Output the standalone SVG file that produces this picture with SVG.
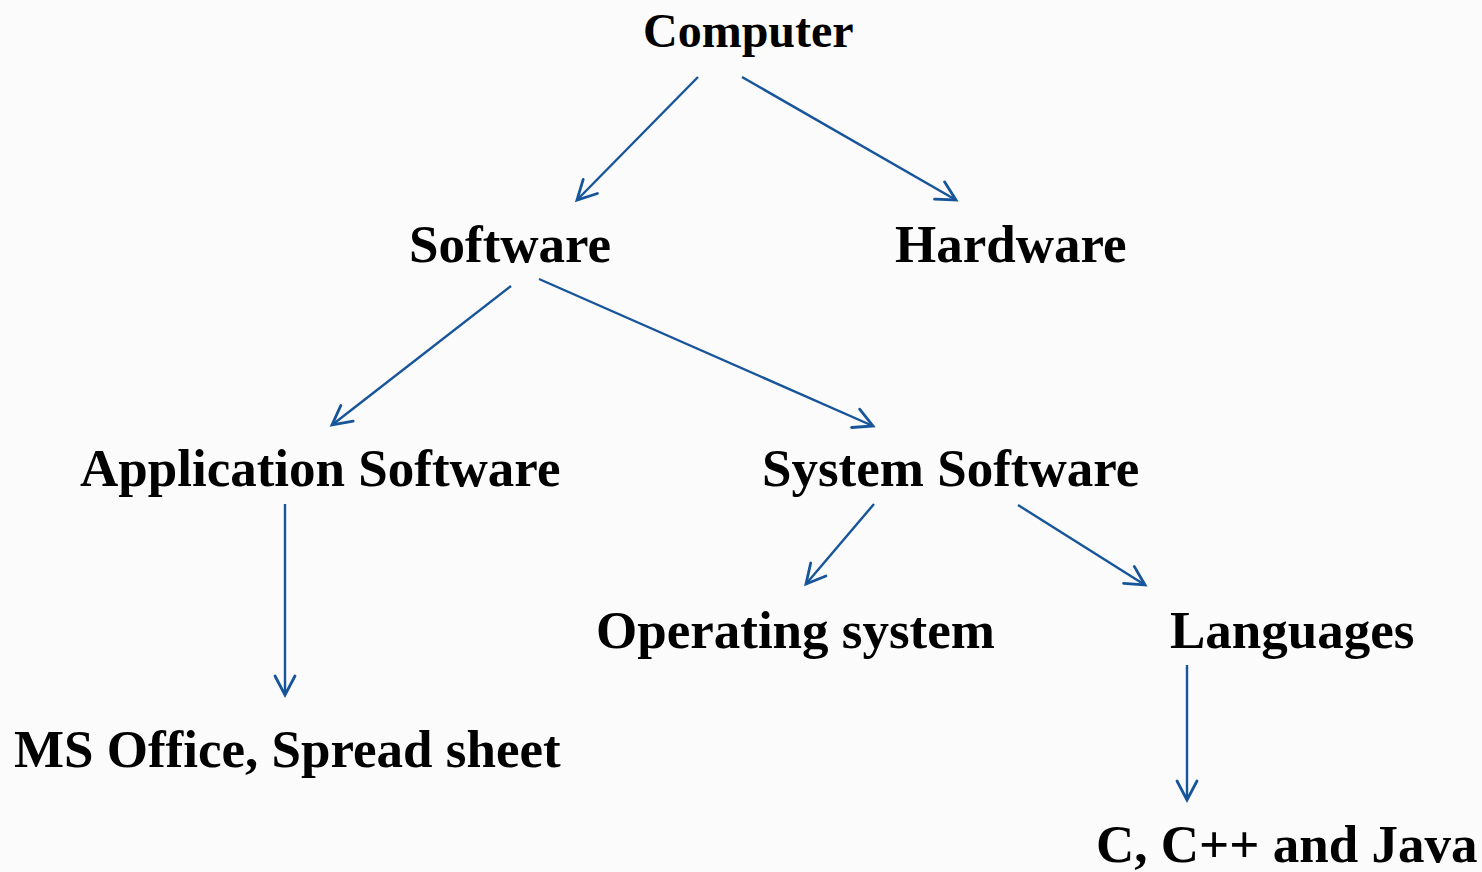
<svg xmlns="http://www.w3.org/2000/svg" width="1482" height="872" viewBox="0 0 1482 872">
<defs>
<style>
.t{font-family:"Liberation Serif","Times New Roman",serif;font-weight:bold;fill:#000;font-size:53px}
.c{stroke:#17559a;stroke-width:2.4;fill:none}
</style>
<marker id="ah" markerUnits="userSpaceOnUse" markerWidth="26" markerHeight="26" viewBox="-22 -13 26 26" refX="0" refY="0" orient="auto">
<path d="M-19,-10 L0,0 L-19,10" fill="none" stroke="#17559a" stroke-width="2.8" stroke-linecap="round" stroke-linejoin="miter"/>
</marker>
</defs>
<rect width="1482" height="872" fill="#fbfbfb"/>
<g id="connectors">
<line class="c" x1="698" y1="77" x2="577" y2="200" marker-end="url(#ah)"/>
<line class="c" x1="742" y1="77" x2="956" y2="200" marker-end="url(#ah)"/>
<line class="c" x1="511" y1="286" x2="332" y2="425" marker-end="url(#ah)"/>
<line class="c" x1="539" y1="279" x2="873" y2="426" marker-end="url(#ah)"/>
<line class="c" x1="285" y1="504" x2="285" y2="695" marker-end="url(#ah)"/>
<line class="c" x1="874" y1="504" x2="806" y2="584" marker-end="url(#ah)"/>
<line class="c" x1="1018" y1="505" x2="1145" y2="585" marker-end="url(#ah)"/>
<line class="c" x1="1187" y1="665" x2="1187" y2="800" marker-end="url(#ah)"/>
</g>
<g id="computer"><text class="t" x="643" y="47" style="font-size:48px">Computer</text></g>
<g id="software"><text class="t" x="409" y="262">Software</text></g>
<g id="hardware"><text class="t" x="895" y="262">Hardware</text></g>
<g id="application-software"><text class="t" x="80" y="486">Application Software</text></g>
<g id="system-software"><text class="t" x="762" y="486">System Software</text></g>
<g id="operating-system"><text class="t" x="596" y="648">Operating system</text></g>
<g id="languages"><text class="t" x="1170" y="648">Languages</text></g>
<g id="ms-office"><text class="t" x="14" y="767">MS Office, Spread sheet</text></g>
<g id="c-langs"><text class="t" x="1096" y="862">C, C++ and Java</text></g>
</svg>
